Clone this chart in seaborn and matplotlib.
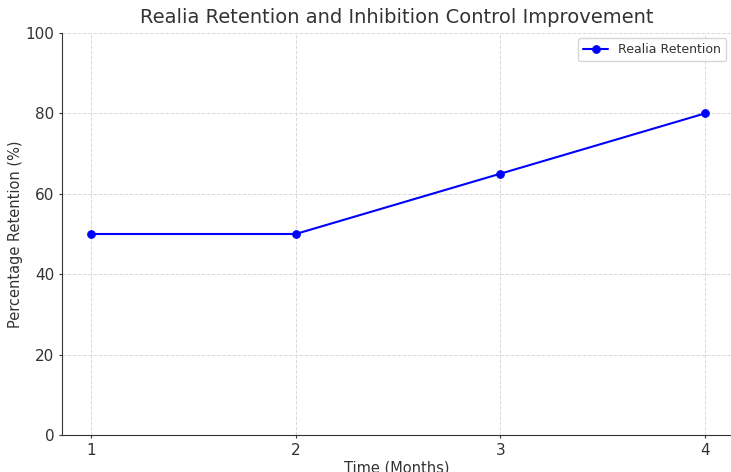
import matplotlib
matplotlib.use("Agg")
import matplotlib.pyplot as plt
import seaborn as sns
import pandas as pd

months = [1, 2, 3, 4]
retention = [50, 50, 65, 80]
series_label = "Realia Retention"

df = pd.DataFrame({"Time (Months)": months, "Retention": retention})

sns.set_style("ticks")
plt.rcParams['font.family'] = ['DejaVu Sans']
text_color = "#333333"

fig = plt.figure(figsize=(7.31, 4.72), dpi=100)
ax = fig.add_axes([62/731, 1 - 435/472, 1 - 62/731, (435 - 33)/472])

sns.lineplot(data=df, x="Time (Months)", y="Retention", ax=ax, color="blue",
             marker="o", markersize=5.5, markeredgecolor="blue", linewidth=1.5,
             label=series_label)

ax.set_xlim(0.858, 4.127)
ax.set_ylim(0, 100)
ax.set_xticks(months)
ax.set_yticks([0, 20, 40, 60, 80, 100])
ax.grid(True, linestyle="--", color="#d9d9d9", linewidth=0.7)
ax.set_axisbelow(True)
sns.despine(ax=ax)
for s in ["left", "bottom"]:
    ax.spines[s].set_color("#333333")
ax.tick_params(axis="both", colors=text_color, labelsize=11, length=2.5, pad=3)

ax.set_title("Realia Retention and Inhibition Control Improvement", fontsize=14, color=text_color, pad=7)
ax.set_xlabel("Time (Months)", fontsize=10.5, color=text_color, labelpad=2)
ax.set_ylabel("Percentage Retention (%)", fontsize=10.5, color=text_color, labelpad=2)

leg = ax.legend(loc="upper right", fontsize=9, frameon=True, borderaxespad=0.4)
for t in leg.get_texts():
    t.set_color(text_color)

fig.savefig("out.png", dpi=100)
